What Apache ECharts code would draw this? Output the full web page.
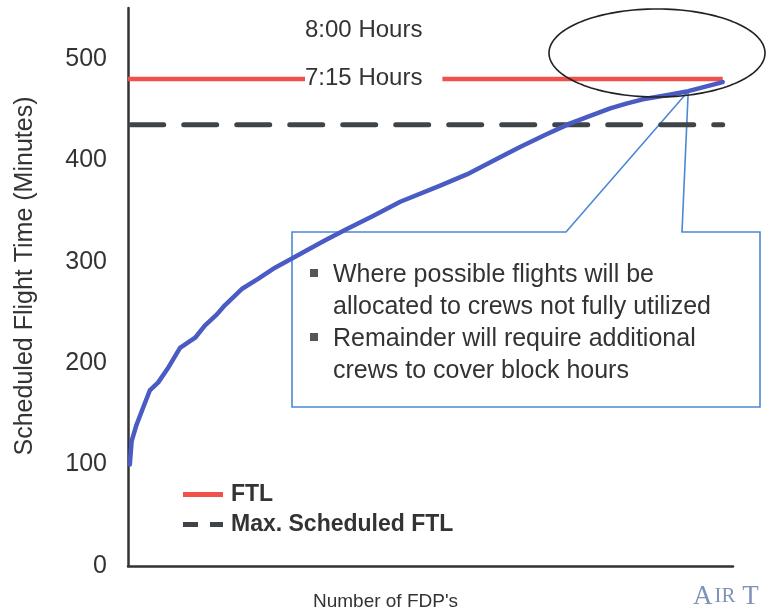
<!DOCTYPE html>
<html>
<head>
<meta charset="utf-8">
<script src="https://cdn.jsdelivr.net/npm/echarts@6/dist/echarts.min.js"></script>
<style>
  html, body { margin: 0; padding: 0; background: #ffffff; }
  #chart { width: 766px; height: 616px; }
</style>
</head>
<body>
<div id="chart"></div>
<script>
// FDPs sorted by scheduled flight time (x position on the FDP axis, minutes)
const fdpPosition = [0.3, 0.6, 1.4, 2.3, 3.6, 5.0, 6.7, 8.6, 11.1, 12.7, 14.7, 16.0, 18.8, 21.5, 24.3, 27.1,
  29.8, 32.6, 36.1, 40.5, 45.0, 51.6, 56.0, 61.5, 64.8, 69.0, 73.0, 76.5, 79.7, 82.5, 85.1, 89.0, 92.6, 98.3];
const scheduledMinutes = [100, 123, 139, 153, 173, 181, 196, 215, 225, 237, 248, 257, 273, 283, 294, 303,
  312, 321, 332, 345, 359, 375, 386, 403, 413, 425, 436, 444, 451, 456, 460, 464, 468, 477];

// Limits (minutes)
const ftlMinutes = 480;          // 8:00 hours
const maxScheduledMinutes = 435; // 7:15 hours
const ftlSpan = [0, 98.3];
const maxScheduledSpan = [0.45, 98.3];

const yTicks = [0, 100, 200, 300, 400, 500];
const calloutPoint = [92.6, 468];

const calloutLines = [
  'Where possible flights will be',
  'allocated to crews not fully utilized',
  'Remainder will require additional',
  'crews to cover block hours'
];

const FONT = '"Liberation Sans", Arial, sans-serif';
const SERIF = '"Liberation Serif", "DejaVu Serif", serif';
const TEXT = '#333333';

const chart = echarts.init(document.getElementById('chart'), null, { renderer: 'canvas' });

chart.setOption({
  animation: false,
  backgroundColor: '#ffffff',
  grid: { left: 128, right: 33, top: 8, bottom: 48 },
  xAxis: {
    type: 'value', min: 0, max: 100,
    name: "Number of FDP's", nameLocation: 'middle', nameGap: 26,
    nameTextStyle: { fontFamily: FONT, fontSize: 19, color: TEXT, padding: [0, 90, 0, 0] },
    axisLine: { lineStyle: { color: '#333', width: 2.5 } },
    axisTick: { show: false }, axisLabel: { show: false }, splitLine: { show: false }
  },
  yAxis: {
    type: 'value', min: 0, max: 550, interval: 100,
    name: 'Scheduled Flight Time (Minutes)', nameLocation: 'middle', nameGap: 90,
    nameTextStyle: { fontFamily: FONT, fontSize: 25, color: TEXT, padding: [0, 0, 0, 22] },
    axisLine: { show: true, lineStyle: { color: '#333', width: 2.5 } },
    axisTick: { show: false }, splitLine: { show: false },
    axisLabel: {
      fontFamily: FONT, fontSize: 25, color: TEXT, margin: 21,
      formatter: v => (yTicks.indexOf(v) >= 0 ? String(v) : '')
    }
  },
  legend: {
    orient: 'vertical', left: 178, top: 478, itemGap: 7,
    itemWidth: 40, itemHeight: 5,
    textStyle: { fontFamily: FONT, fontSize: 23, fontWeight: 'bold', color: TEXT, padding: [0, 0, 0, 3] },
    data: [
      { name: 'FTL', icon: 'path://M0,0h40v5h-40z' },
      { name: 'Max. Scheduled FTL', icon: 'path://M0,0h15v5h-15zM27,0h13v5h-13z' }
    ]
  },
  series: [
    {
      name: 'FTL', type: 'line', symbol: 'none', z: 3,
      color: '#f0514a',
      lineStyle: { color: '#f0514a', width: 4.5 },
      data: ftlSpan.map(x => [x, ftlMinutes])
    },
    {
      name: 'Max. Scheduled FTL', type: 'line', symbol: 'none', z: 3,
      color: '#3f4448',
      lineStyle: { color: '#3f4448', width: 5, type: [33, 20], cap: 'round' },
      data: maxScheduledSpan.map(x => [x, maxScheduledMinutes])
    },
    {
      name: 'Scheduled Flight Time', type: 'line', symbol: 'none', z: 4,
      color: '#4a5cc4',
      lineStyle: { color: '#4a5cc4', width: 4.5, cap: 'round', join: 'round' },
      data: fdpPosition.map((x, i) => [x, scheduledMinutes[i]])
    }
  ]
});

// Annotations: hour labels, highlight ellipse, callout box with notes
const tip = chart.convertToPixel({ gridIndex: 0 }, calloutPoint);
const yFtl = chart.convertToPixel({ gridIndex: 0 }, [0, ftlMinutes])[1];

const box = { left: 292, top: 232, right: 760, bottom: 407 };
const calloutPoints = [
  [box.left, box.top], [566, box.top], [tip[0], tip[1]], [682, box.top],
  [box.right, box.top], [box.right, box.bottom], [box.left, box.bottom]
];

// outline of the highlight ellipse around the point where the curve reaches the FTL
const ell = { cx: 657, cy: 53, rx: 108, ry: 44 };
const ellipsePoints = [];
for (let k = 0; k < 144; k++) {
  const a = (k / 144) * Math.PI * 2;
  ellipsePoints.push([ell.cx + ell.rx * Math.cos(a), ell.cy + ell.ry * Math.sin(a)]);
}

const graphics = [
  {
    type: 'polygon', z: 1, shape: { points: calloutPoints },
    style: { fill: 'rgba(255,255,255,0)', stroke: '#4c88d6', lineWidth: 1.6 }
  },
  {
    type: 'polygon', z: 5, shape: { points: ellipsePoints },
    style: { fill: 'rgba(255,255,255,0)', stroke: '#222', lineWidth: 1.6 }
  },
  {
    type: 'text', z: 6, x: 305, y: yFtl - 49,
    style: { text: '8:00 Hours', font: '24px ' + FONT, fill: TEXT, verticalAlign: 'middle' }
  },
  {
    type: 'text', z: 6, x: 305, y: yFtl - 1,
    style: {
      text: '7:15 Hours', font: '24px ' + FONT, fill: TEXT, verticalAlign: 'middle',
      backgroundColor: '#ffffff', padding: [3, 20, 3, 0]
    }
  },
  {
    type: 'text', z: 6, x: 693, y: 610,
    style: {
      text: '{a|A}{b|IR}{s| }{a|T}', verticalAlign: 'bottom',
      rich: {
        a: { fontFamily: SERIF, fontSize: 27, fill: '#7f93b8' },
        b: { fontFamily: SERIF, fontSize: 21, fill: '#7f93b8', padding: [0, 0, 0, 2] },
        s: { fontFamily: SERIF, fontSize: 27, fill: '#7f93b8' }
      }
    }
  }
];

const lineCenters = [275, 307, 339, 371];
calloutLines.forEach((t, i) => {
  graphics.push({
    type: 'text', z: 6, x: 333, y: lineCenters[i],
    style: { text: t, font: '25px ' + FONT, fill: TEXT, verticalAlign: 'middle' }
  });
});
[0, 2].forEach(i => {
  graphics.push({
    type: 'rect', z: 6, shape: { x: 310, y: lineCenters[i] - 6, width: 8, height: 8 },
    style: { fill: '#555' }
  });
});

chart.setOption({ graphic: graphics });
</script>
</body>
</html>
